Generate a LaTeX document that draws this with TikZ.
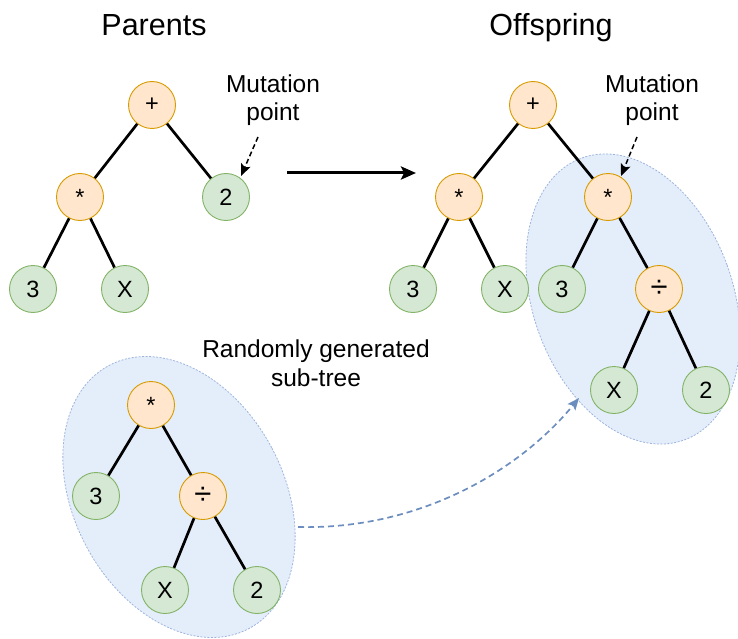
\documentclass[tikz,border=0pt]{standalone}
\usepackage{fontspec}
\setmainfont{Liberation Sans}
\usetikzlibrary{shapes.geometric,arrows.meta}

\definecolor{opfill}{HTML}{FFE6CC}
\definecolor{opdraw}{HTML}{D79B00}
\definecolor{lffill}{HTML}{D5E8D4}
\definecolor{lfdraw}{HTML}{82B366}
\definecolor{blobfill}{HTML}{E4EDFA}
\definecolor{blobdraw}{HTML}{9DB5DD}
\definecolor{linkblue}{HTML}{6C8EBF}

\newcommand{\bigdiv}{{\fontsize{31}{31}\selectfont ÷}}

\tikzset{
  treenode/.style={circle, minimum size=47pt, inner sep=0pt, line width=0.9pt,
    font=\fontsize{23.5}{23.5}\selectfont},
  opnode/.style={treenode, fill=opfill, draw=opdraw},
  leafnode/.style={treenode, fill=lffill, draw=lfdraw},
  edge/.style={line width=2.7pt, black},
  blob/.style={ellipse, fill=blobfill, draw=blobdraw, line width=0.8pt,
    dash pattern=on 2pt off 1.5pt, inner sep=0pt},
  title/.style={font=\fontsize{30.5}{30.5}\selectfont, anchor=base},
  caption/.style={font=\fontsize{24.5}{28.5}\selectfont, align=center},
  pointer/.style={line width=1.5pt, dash pattern=on 5pt off 3pt,
    -{Stealth[length=12pt,width=10pt,inset=2.5pt]}},
}

\begin{document}
\begin{tikzpicture}[x=1pt,y=-1pt]
\useasboundingbox (0,0) rectangle (738,639);

% highlighted sub-trees
\node[blob, minimum width=200pt, minimum height=300pt, rotate=20] (rblob) at (633,299) {};
\node[blob, minimum width=210pt, minimum height=298pt, rotate=28] (lblob) at (179,497) {};

% titles
\node[title] (tparents) at (154,36) {Parents};
\node[title] (toffspring) at (551,36) {Offspring};

% parent tree
\node[opnode] (pplus) at (152,105) {+};
\node[opnode] (pmul) at (80,197) {*};
\node[leafnode] (ptwo) at (226,197) {2};
\node[leafnode] (pthree) at (33,289) {3};
\node[leafnode] (px) at (125,289) {X};
\draw[edge] (pplus) -- (pmul);
\draw[edge] (pplus) -- (ptwo);
\draw[edge] (pmul) -- (pthree);
\draw[edge] (pmul) -- (px);

\node[caption] (pmut) at (273,100) {Mutation\\point};
\coordinate (pmuttail) at (258,137);
\coordinate (pmuthead) at (241,176);
\draw[pointer] (pmuttail) -- (pmuthead);

% transition arrow
\coordinate (goA) at (287,173);
\coordinate (goB) at (416,173);
\draw[line width=3pt, -{Stealth[length=15pt,width=13pt,inset=3pt]}] (goA) -- (goB);

% offspring tree
\node[opnode] (oplus) at (533,105) {+};
\node[opnode] (omul) at (459,197) {*};
\node[opnode] (omulb) at (608,197) {*};
\node[leafnode] (othree) at (413,289) {3};
\node[leafnode] (ox) at (505,289) {X};
\node[leafnode] (othreeb) at (562,289) {3};
\node[opnode] (odiv) at (659,289) {\bigdiv};
\node[leafnode] (oxb) at (614,390) {X};
\node[leafnode] (otwo) at (706,390) {2};
\draw[edge] (oplus) -- (omul);
\draw[edge] (oplus) -- (omulb);
\draw[edge] (omul) -- (othree);
\draw[edge] (omul) -- (ox);
\draw[edge] (omulb) -- (othreeb);
\draw[edge] (omulb) -- (odiv);
\draw[edge] (odiv) -- (oxb);
\draw[edge] (odiv) -- (otwo);

\node[caption] (omut) at (652,100) {Mutation\\point};
\coordinate (omuttail) at (637,137);
\coordinate (omuthead) at (621,176);
\draw[pointer] (omuttail) -- (omuthead);

% randomly generated sub-tree
\node[caption] (rcap) at (316,363) {Randomly generated\\sub-tree};
\node[opnode] (rmul) at (151,405) {*};
\node[leafnode] (rthree) at (96,496) {3};
\node[opnode] (rdiv) at (203,496) {\bigdiv};
\node[leafnode] (rx) at (165,590) {X};
\node[leafnode] (rtwo) at (257,590) {2};
\draw[edge] (rmul) -- (rthree);
\draw[edge] (rmul) -- (rdiv);
\draw[edge] (rdiv) -- (rx);
\draw[edge] (rdiv) -- (rtwo);

% insertion link
\coordinate (linkA) at (298,527);
\coordinate (linkB) at (579,398);
\draw[linkblue, line width=1.7pt, dash pattern=on 6pt off 4pt,
  -{Stealth[length=12pt,width=10pt,inset=2.5pt]}]
  (linkA) .. controls (420,530) and (520,470) .. (linkB);
\end{tikzpicture}
\end{document}
